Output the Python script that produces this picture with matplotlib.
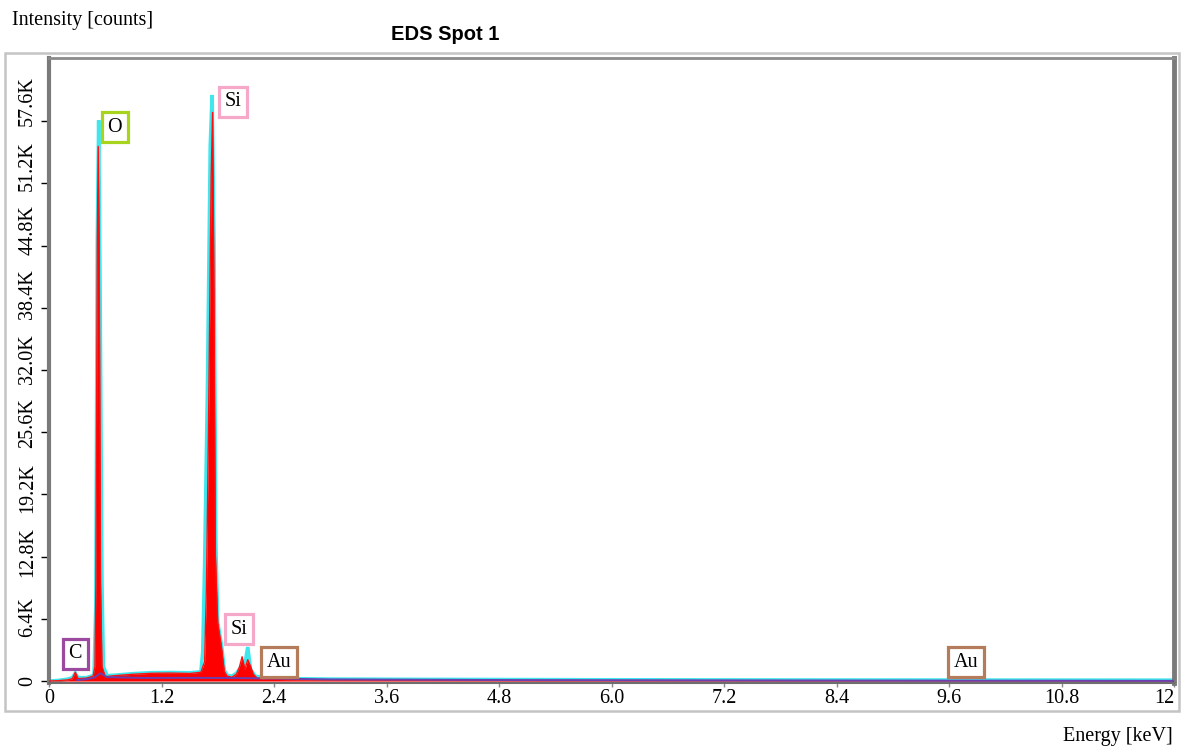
import matplotlib
matplotlib.use("Agg")
import matplotlib.pyplot as plt
from matplotlib.patches import Rectangle

# Measured spectrum (filled red): energy (keV) and counts
energy_measured = [0.00, 0.10, 0.20, 0.25, 0.28, 0.31, 0.40, 0.47, 0.49, 0.50, 0.515,
                   0.525, 0.535, 0.55, 0.565, 0.60, 0.70, 0.90, 1.10, 1.30, 1.50,
                   1.62, 1.66, 1.68, 1.70, 1.73, 1.745, 1.76, 1.775, 1.80, 1.84,
                   1.87, 1.90, 1.95, 2.00, 2.03, 2.06, 2.09, 2.12, 2.15, 2.18,
                   2.22, 2.30, 2.50, 3.00, 4.00, 5.00, 6.00, 8.00, 10.00, 12.00]
counts_measured = [0, 40, 120, 250, 900, 250, 300, 500, 1500, 10000, 45000,
                   55000, 45000, 10000, 1500, 450, 550, 700, 800, 820, 780,
                   900, 2000, 10000, 25000, 52000, 58500, 40000, 13000, 6000, 3500,
                   1000, 500, 400, 700, 1400, 2500, 1200, 2200, 1500, 700,
                   300, 200, 150, 100, 80, 60, 50, 40, 30, 20]

# Fitted spectrum (cyan)
energy_fit = [0.00, 0.10, 0.20, 0.25, 0.28, 0.31, 0.40, 0.48, 0.50, 0.515, 0.53,
              0.545, 0.565, 0.58, 0.62, 0.70, 0.90, 1.10, 1.30, 1.50, 1.62,
              1.64, 1.66, 1.69, 1.72, 1.74, 1.76, 1.78, 1.80, 1.84, 1.87,
              1.90, 1.95, 2.00, 2.05, 2.09, 2.12, 2.15, 2.20, 2.30, 2.50,
              3.00, 4.00, 5.00, 6.00, 8.00, 10.00, 12.00]
counts_fit = [0, 60, 200, 350, 800, 350, 350, 600, 8000, 45000, 57700,
              40000, 10000, 1500, 550, 600, 760, 860, 880, 850, 950,
              3000, 12000, 30000, 55000, 60300, 45000, 14000, 6000, 3700, 1100,
              600, 500, 800, 1500, 1800, 3500, 1200, 500, 350, 250,
              200, 170, 150, 130, 110, 100, 90]

# Background model (purple)
energy_background = [0.30, 0.40, 0.48, 0.55, 0.62, 1.00, 1.50, 2.00, 2.40, 3.00,
                     5.00, 8.00, 12.00]
counts_background = [100, 200, 350, 800, 400, 320, 330, 310, 260, 170,
                     100, 60, 20]

# Element markers
peak_labels = ["C", "O", "Si", "Si", "Au", "Au"]
peak_label_x = [0.28, 0.70, 1.96, 2.03, 2.45, 9.78]
peak_label_y = [2800, 57000, 59600, 5350, 1950, 1950]
peak_label_colors = ["#9b4aa0", "#a8d41e", "#f5a8c8", "#f5a8c8", "#b47c5a", "#b47c5a"]

x_ticks = [0, 1.2, 2.4, 3.6, 4.8, 6.0, 7.2, 8.4, 9.6, 10.8, 12]
x_tick_labels = ["0", "1.2", "2.4", "3.6", "4.8", "6.0", "7.2", "8.4", "9.6", "10.8", "12"]
y_ticks = [0, 6400, 12800, 19200, 25600, 32000, 38400, 44800, 51200, 57600]
y_tick_labels = ["0", "6.4K", "12.8K", "19.2K", "25.6K", "32.0K", "38.4K",
                 "44.8K", "51.2K", "57.6K"]

W, H = 1186, 753
serif = "Liberation Serif"
fs = 14.5

fig = plt.figure(figsize=(W / 100, H / 100), dpi=100)
fig.patch.set_facecolor("white")

# Outer panel frame
fig.patches.append(Rectangle((5 / W, 1 - 711 / H), (1179 - 5) / W, (711 - 53) / H,
                             transform=fig.transFigure, fill=False,
                             edgecolor="#c4c4c4", linewidth=1.8))

rect = [49 / W, 1 - 683 / H, (1174 - 49) / W, (683 - 58) / H]
ax = fig.add_axes(rect)
ax.set_xlim(0, 12)
ax.set_ylim(-200, 64100)

ax.plot(energy_fit, counts_fit, color="#3ee6ee", linewidth=2.6, zorder=2,
        solid_joinstyle="miter")
ax.fill_between(energy_measured, counts_measured, color="#ff0000", linewidth=0, zorder=3)
ax.plot(energy_measured, counts_measured, color="#ff1010", linewidth=1.0, zorder=3)
ax.plot(energy_background, counts_background, color="#6a3fb0", linewidth=1.4, zorder=4)

for lab, lx, ly, c in zip(peak_labels, peak_label_x, peak_label_y, peak_label_colors):
    ax.text(lx, ly, lab, ha="center", va="center", family=serif, fontsize=fs,
            color="black", zorder=6,
            bbox=dict(boxstyle="square,pad=0.28", facecolor="white",
                      edgecolor=c, linewidth=2.3))

ax.set_xticks(x_ticks)
ax.set_xticklabels(x_tick_labels, family=serif, fontsize=fs)
ax.get_xticklabels()[-1].set_horizontalalignment("right")
ax.set_yticks(y_ticks)
ax.set_yticklabels([])
ax.tick_params(axis="y", direction="out", length=6, width=1, color="black")
ax.tick_params(axis="x", direction="out", length=3, width=1, color="#888888", pad=1)

# Intensity labels sit on a slightly wider scale than the tick marks
lab_ax = fig.add_axes(rect, frameon=False)
lab_ax.set_xlim(0, 12)
lab_ax.set_ylim(-199, 61900)
lab_ax.set_xticks([])
lab_ax.set_yticks(y_ticks)
lab_ax.set_yticklabels(y_tick_labels, family=serif, fontsize=fs, rotation=90,
                       va="center")
lab_ax.tick_params(axis="y", length=0, pad=8.5)
lab_ax.patch.set_visible(False)

for side, lw, col in [("left", 3, "#7a7a7a"), ("right", 3.5, "#7a7a7a"),
                      ("top", 2, "#8a8a8a"), ("bottom", 1.5, "#6e6e6e")]:
    ax.spines[side].set_linewidth(lw)
    ax.spines[side].set_color(col)

fig.text(12 / W, 1 - 20 / H, "Intensity [counts]", family=serif, fontsize=fs,
         ha="left", va="center")
fig.text(1173 / W, 1 - 737 / H, "Energy [keV]", family=serif, fontsize=fs,
         ha="right", va="center")
fig.text(445 / W, 1 - 34 / H, "EDS Spot 1", family="Liberation Sans",
         fontweight="bold", fontsize=14.5, ha="center", va="center")

fig.savefig("out.png", dpi=100, facecolor="white")
